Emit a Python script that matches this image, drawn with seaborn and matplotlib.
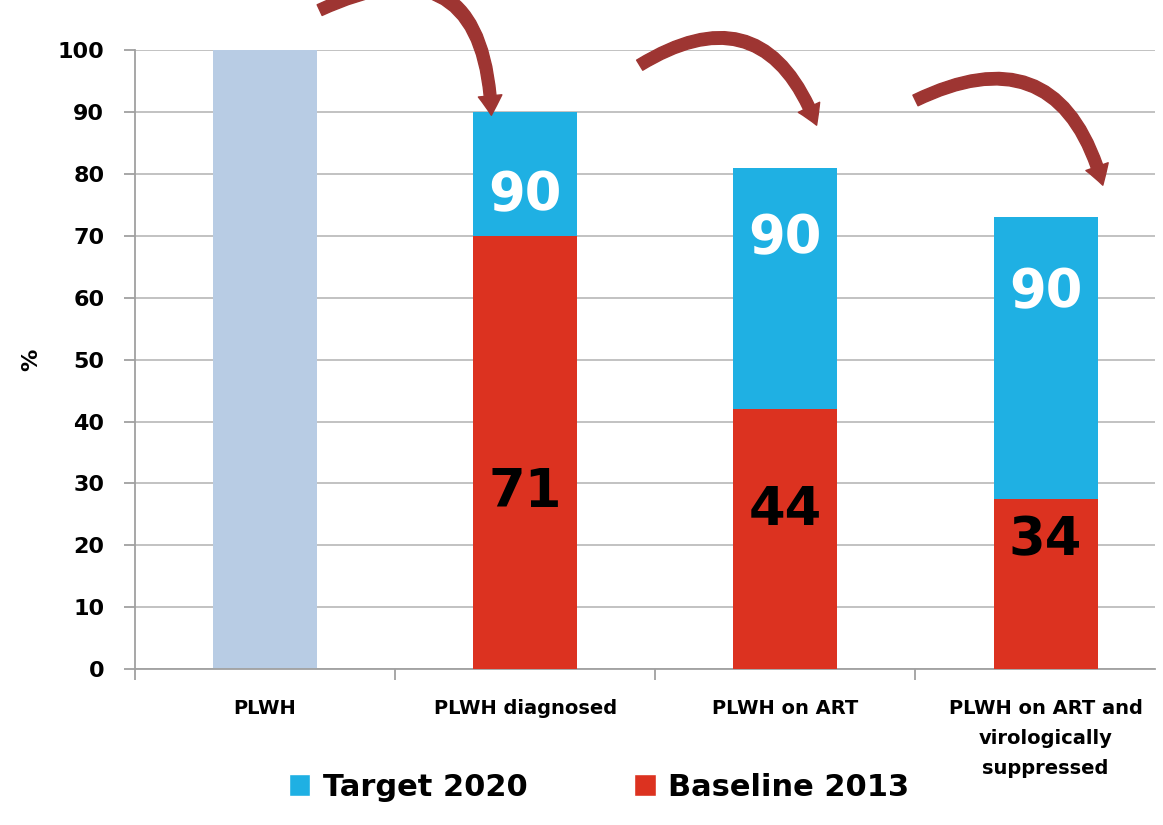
import numpy as np
import pandas as pd
import matplotlib.pyplot as plt
import seaborn as sns
from matplotlib.patches import Patch

sns.set_style("white")
plt.rcParams["text.color"] = "black"
plt.rcParams["xtick.color"] = "black"
plt.rcParams["ytick.color"] = "black"
plt.rcParams["axes.labelcolor"] = "black"

categories = ["PLWH", "PLWH diagnosed", "PLWH on ART",
              "PLWH on ART and\nvirologically\nsuppressed"]
target_total = [100, 90, 81, 73]
baseline = [0, 70, 42, 27.5]
target_labels = ["", "90", "90", "90"]
baseline_labels = ["", "71", "44", "34"]

blue = "#1fb0e3"
red = "#dc3220"
pale = "#b8cce4"
arrow_col = "#9e3532"

df = pd.DataFrame({"cat": categories, "total": target_total, "base": baseline})

fig = plt.figure(figsize=(11.63, 8.25), dpi=100)
ax = fig.add_axes([0.116, 0.189, 0.877, 0.750])

sns.barplot(data=df, x="cat", y="total", hue="cat",
            palette=[pale, blue, blue, blue], width=0.4, linewidth=0,
            legend=False, ax=ax, saturation=1, zorder=2)
sns.barplot(data=df, x="cat", y="base", color=red, width=0.4, linewidth=0,
            ax=ax, saturation=1, zorder=3)

ax.set_ylim(0, 100)
ax.set_xlim(-0.5, 3.42)
ax.set_yticks(np.arange(0, 101, 10))
ax.yaxis.grid(True, color="#bdbdbd", linewidth=1.3, zorder=0)
ax.set_axisbelow(True)
for s in ["top", "right"]:
    ax.spines[s].set_visible(False)
for s in ["left", "bottom"]:
    ax.spines[s].set_color("#a0a0a0")
    ax.spines[s].set_linewidth(1.3)

ax.tick_params(axis="y", which="major", left=True, length=8, width=1.3,
               color="#a0a0a0", labelcolor="black", labelsize=16, pad=14)
ax.tick_params(axis="x", which="major", bottom=False, labelcolor="black",
               labelsize=14, pad=18)
ax.set_xticks([-0.5, 0.5, 1.5, 2.5], minor=True)
ax.tick_params(axis="x", which="minor", bottom=True, length=8, width=1.3,
               color="#a0a0a0")
for lab in ax.get_yticklabels():
    lab.set_fontweight("bold")
for lab in ax.get_xticklabels():
    lab.set_fontweight("bold")
    lab.set_linespacing(1.75)
ax.set_xlabel("")
ax.set_ylabel("%", fontsize=16, fontweight="bold", labelpad=12, color="black")

# value labels
target_y = [0, 76.6, 69.6, 60.9]
base_y = [0, 28.6, 25.7, 20.8]
for i in range(1, 4):
    ax.text(i, target_y[i], target_labels[i], color="white", fontsize=38,
            fontweight="bold", ha="center", va="center", zorder=5)
    ax.text(i, base_y[i], baseline_labels[i], color="black", fontsize=38,
            fontweight="bold", ha="center", va="center", zorder=5)

# curved arrows
arrows = [((0.21, 106.5), (0.87, 89.5), -0.75),
          ((1.44, 97.6), (2.12, 87.9), -0.6),
          ((2.5, 91.9), (3.22, 78.2), -0.6)]
for start, end, rad in arrows:
    ax.annotate("", xy=end, xytext=start, annotation_clip=False,
                arrowprops=dict(arrowstyle="simple,head_length=1.4,head_width=1.7,tail_width=0.85",
                                connectionstyle=f"arc3,rad={rad}",
                                color=arrow_col, shrinkA=0, shrinkB=0),
                zorder=6)

handles = [Patch(facecolor=blue, label="Target 2020"),
           Patch(facecolor=red, label="Baseline 2013")]
leg = fig.legend(handles=handles, loc="lower center", bbox_to_anchor=(0.515, -0.005),
                 ncol=2, frameon=False, prop={"size": 22, "weight": "bold"},
                 handlelength=0.7, handleheight=0.7, columnspacing=3.5,
                 handletextpad=0.4)
for t in leg.get_texts():
    t.set_color("black")

fig.savefig("out.png", dpi=100)
